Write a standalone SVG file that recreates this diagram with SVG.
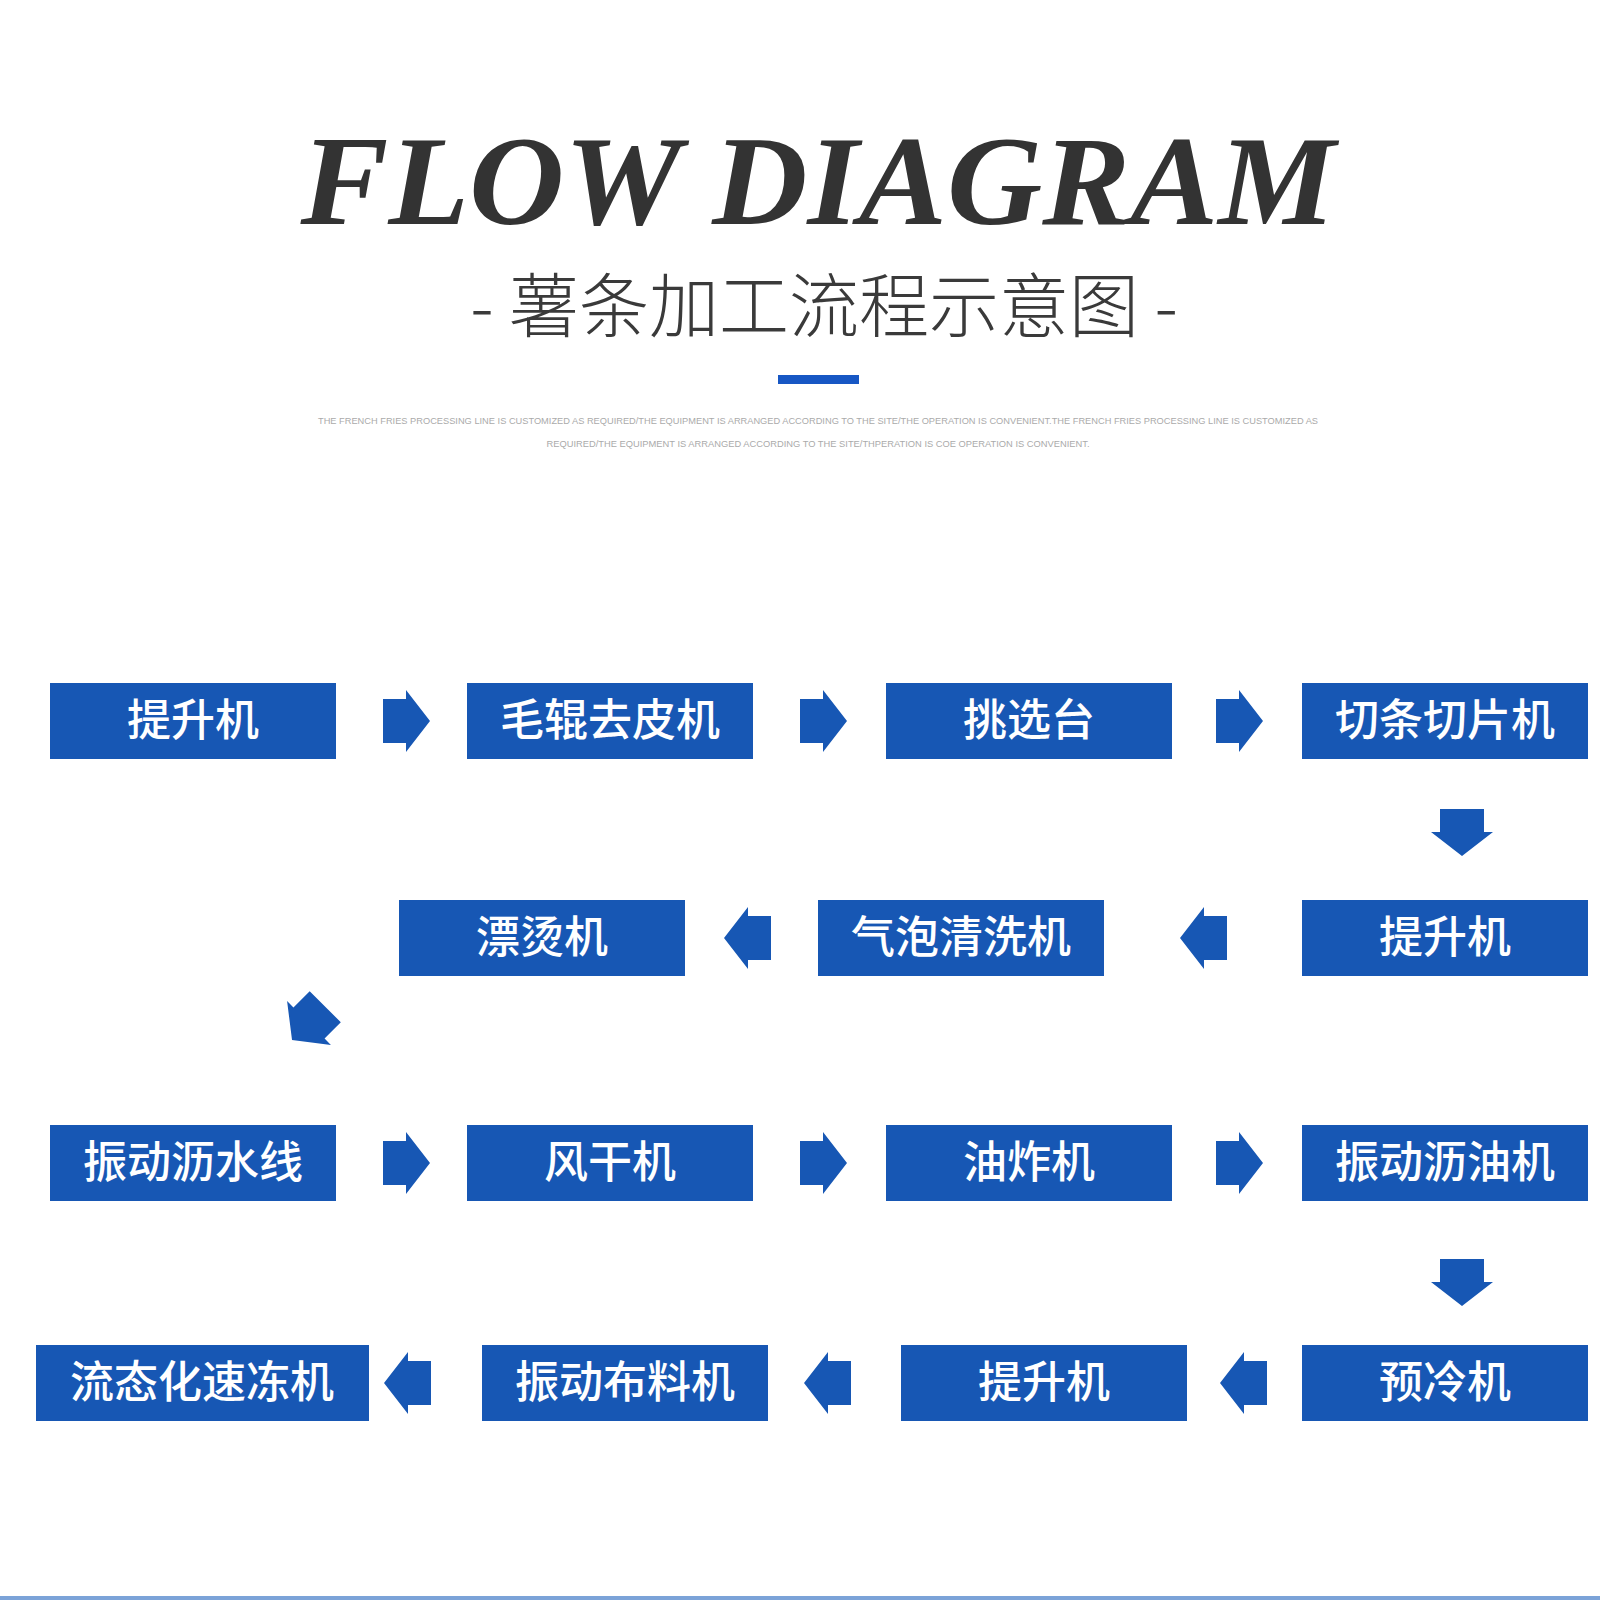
<svg xmlns="http://www.w3.org/2000/svg" width="1600" height="1600" viewBox="0 0 1600 1600">
<style>
.b{fill:#1757b4}
.t{fill:#fff;font-family:"Noto Sans CJK SC","Noto Sans",sans-serif;font-size:44px;text-anchor:middle;font-weight:500}
.s{fill:#aaa;font-family:"Liberation Sans",sans-serif;font-size:8.5px;text-anchor:middle}
</style>
<defs>
<path id="ar" class="b" d="M-23,-22H0V-31L24,0L0,31V22H-23Z"/>
</defs>
<rect width="1600" height="1600" fill="#fff"/>
<text x="818" y="224" font-family="Liberation Serif,serif" font-weight="bold" font-style="italic" font-size="128" fill="#333" text-anchor="middle" textLength="1035" lengthAdjust="spacingAndGlyphs">FLOW DIAGRAM</text>
<text x="824" y="332" font-family="Noto Sans CJK SC,sans-serif" font-size="70" fill="#3a3a3a" text-anchor="middle" font-weight="300">- 薯条加工流程示意图 -</text>
<rect x="778" y="375" width="81" height="9" fill="#1757c4"/>
<text class="s" x="818" y="424" textLength="1000" lengthAdjust="spacingAndGlyphs">THE FRENCH FRIES PROCESSING LINE IS CUSTOMIZED AS REQUIRED/THE EQUIPMENT IS ARRANGED ACCORDING TO THE SITE/THE OPERATION IS CONVENIENT.THE FRENCH FRIES PROCESSING LINE IS CUSTOMIZED AS</text>
<text class="s" x="818" y="447" textLength="543" lengthAdjust="spacingAndGlyphs">REQUIRED/THE EQUIPMENT IS ARRANGED ACCORDING TO THE SITE/THPERATION IS COE OPERATION IS CONVENIENT.</text>
<g id="n1"><rect class="b" x="50" y="683" width="286" height="76"/><text class="t" x="193" y="736">提升机</text></g>
<g id="n2"><rect class="b" x="467" y="683" width="286" height="76"/><text class="t" x="610" y="736">毛辊去皮机</text></g>
<g id="n3"><rect class="b" x="886" y="683" width="286" height="76"/><text class="t" x="1029" y="736">挑选台</text></g>
<g id="n4"><rect class="b" x="1302" y="683" width="286" height="76"/><text class="t" x="1445" y="736">切条切片机</text></g>
<g id="n5"><rect class="b" x="1302" y="900" width="286" height="76"/><text class="t" x="1445" y="953">提升机</text></g>
<g id="n6"><rect class="b" x="818" y="900" width="286" height="76"/><text class="t" x="961" y="953">气泡清洗机</text></g>
<g id="n7"><rect class="b" x="399" y="900" width="286" height="76"/><text class="t" x="542" y="953">漂烫机</text></g>
<g id="n8"><rect class="b" x="50" y="1125" width="286" height="76"/><text class="t" x="193" y="1178">振动沥水线</text></g>
<g id="n9"><rect class="b" x="467" y="1125" width="286" height="76"/><text class="t" x="610" y="1178">风干机</text></g>
<g id="n10"><rect class="b" x="886" y="1125" width="286" height="76"/><text class="t" x="1029" y="1178">油炸机</text></g>
<g id="n11"><rect class="b" x="1302" y="1125" width="286" height="76"/><text class="t" x="1445" y="1178">振动沥油机</text></g>
<g id="n12"><rect class="b" x="1302" y="1345" width="286" height="76"/><text class="t" x="1445" y="1398">预冷机</text></g>
<g id="n13"><rect class="b" x="901" y="1345" width="286" height="76"/><text class="t" x="1044" y="1398">提升机</text></g>
<g id="n14"><rect class="b" x="482" y="1345" width="286" height="76"/><text class="t" x="625" y="1398">振动布料机</text></g>
<g id="n15"><rect class="b" x="36" y="1345" width="333" height="76"/><text class="t" x="202" y="1398">流态化速冻机</text></g>
<g id="connectors">
<use href="#ar" transform="translate(406,721)"/>
<use href="#ar" transform="translate(823,721)"/>
<use href="#ar" transform="translate(1239,721)"/>
<use href="#ar" transform="translate(1462,832) rotate(90)"/>
<use href="#ar" transform="translate(1204,938) rotate(180)"/>
<use href="#ar" transform="translate(748,938) rotate(180)"/>
<use href="#ar" transform="translate(309,1023) rotate(135)"/>
<use href="#ar" transform="translate(406,1163)"/>
<use href="#ar" transform="translate(823,1163)"/>
<use href="#ar" transform="translate(1239,1163)"/>
<use href="#ar" transform="translate(1462,1282) rotate(90)"/>
<use href="#ar" transform="translate(1244,1383) rotate(180)"/>
<use href="#ar" transform="translate(828,1383) rotate(180)"/>
<use href="#ar" transform="translate(408,1383) rotate(180)"/>
</g>
<rect x="0" y="1596" width="1600" height="4" fill="#7ba3d8"/>
</svg>
